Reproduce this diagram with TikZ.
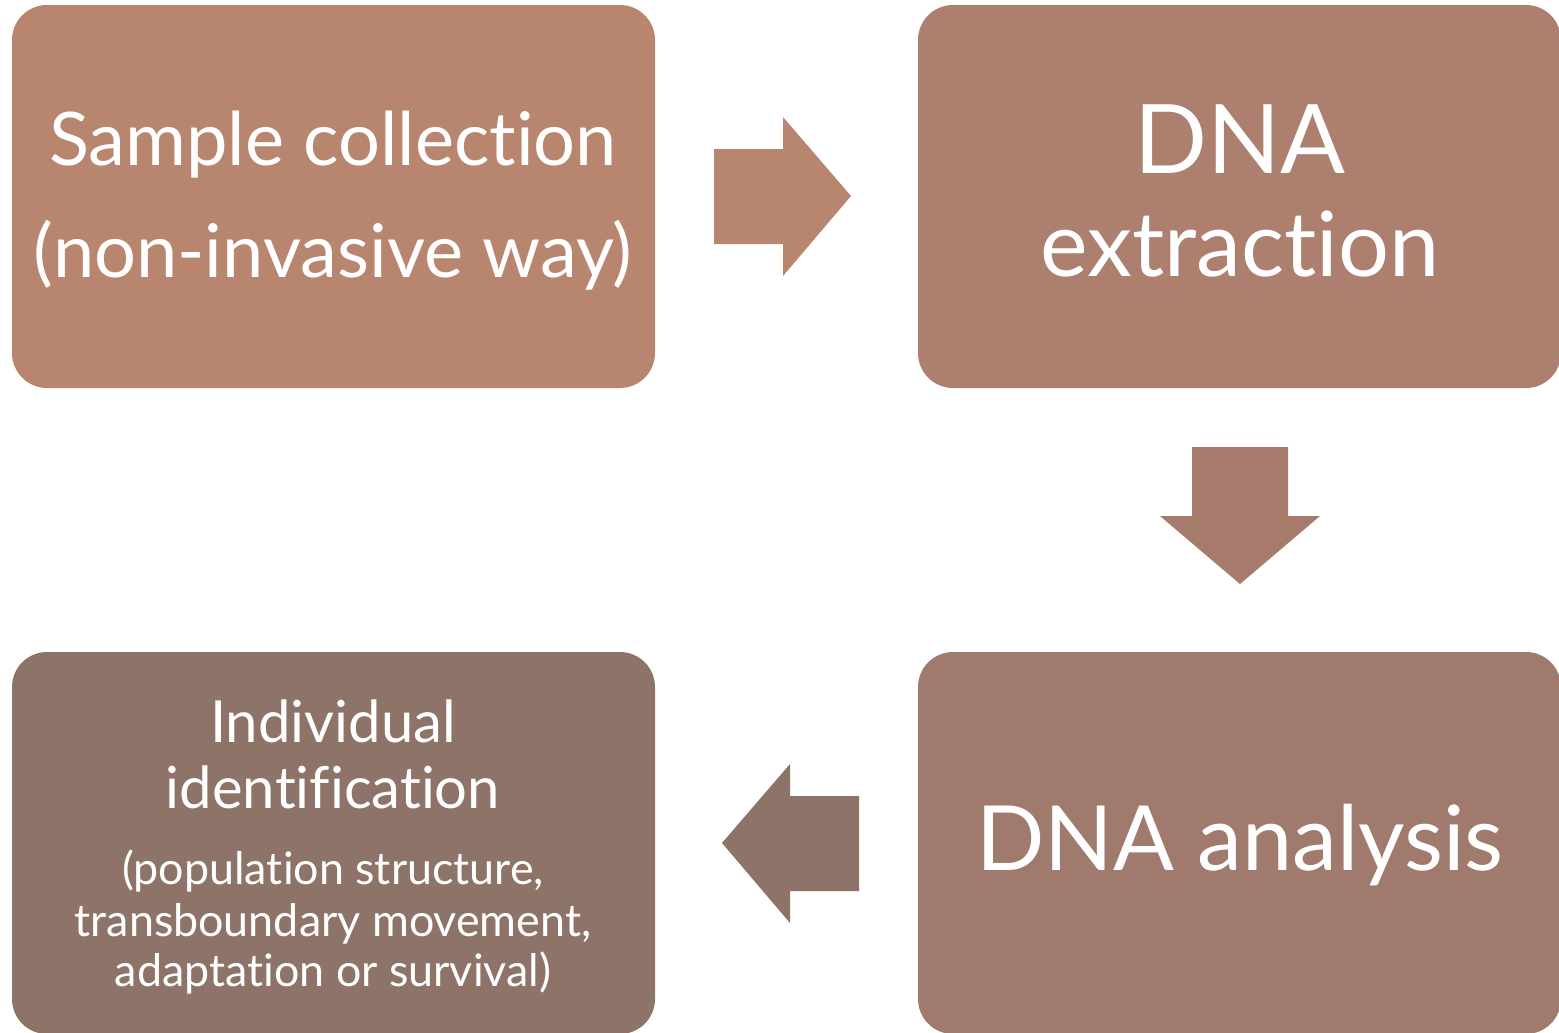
\documentclass[tikz,border=0pt]{standalone}
\usepackage{fontspec}
\setmainfont[Ligatures={NoCommon}]{Lato}
\definecolor{cA}{HTML}{B8856F}
\definecolor{cB}{HTML}{AC7F6F}
\definecolor{cC}{HTML}{A07A6C}
\definecolor{cD}{HTML}{8E7369}
\definecolor{cArB}{HTML}{A67B6B}
\tikzset{
  stepbox/.style={rounded corners=17.5pt},
  lbl/.style={text=white, anchor=base, inner sep=0pt},
  big/.style={lbl, font=\fontsize{37}{44}\selectfont},
  huge/.style={lbl, font=\fontsize{45}{54}\selectfont},
  mid/.style={lbl, font=\fontsize{29}{35}\selectfont},
  small/.style={lbl, font=\fontsize{22.4}{27}\selectfont},
}
\begin{document}
\begin{tikzpicture}[x=0.5pt,y=-0.5pt]
\useasboundingbox (0,0) rectangle (1559,1033);
\clip (0,0) rectangle (1559,1033);
% boxes
\fill[cA, stepbox] (12,5) rectangle (655,388);
\fill[cB, stepbox] (918,5) rectangle (1561,388);
\fill[cC, stepbox] (918,652) rectangle (1561,1034);
\fill[cD, stepbox] (12,652) rectangle (655,1034);
% arrows
\fill[cA] (714,149) -- (783,149) -- (783,117) -- (851,196) -- (783,276) -- (783,244) -- (714,244) -- cycle;
\fill[cArB] (1192,447) -- (1288,447) -- (1288,516) -- (1320,516) -- (1240,584) -- (1160,516) -- (1192,516) -- cycle;
\fill[cD] (859,796) -- (790,796) -- (790,764) -- (722,843) -- (790,923) -- (790,891) -- (859,891) -- cycle;
% texts
\node[big] (t1a) at (333,165) {Sample collection};
\node[big] (t1b) at (333,277) {(non-invasive way)};
\node[huge, font=\fontsize{48}{54}\selectfont] (t2a) at (1240,173) {DNA};
\node[huge] (t2b) at (1240,276) {extraction};
\node[huge] (t3) at (1240,870) {DNA analysis};
\node[mid] (t4a) at (333,742) {Individual};
\node[mid] (t4b) at (333,808) {identification};
\node[small] (t4c) at (333,884) {(population structure,};
\node[small] (t4d) at (333,936) {transboundary movement,};
\node[small] (t4e) at (333,986) {adaptation or survival)};
\end{tikzpicture}
\end{document}
